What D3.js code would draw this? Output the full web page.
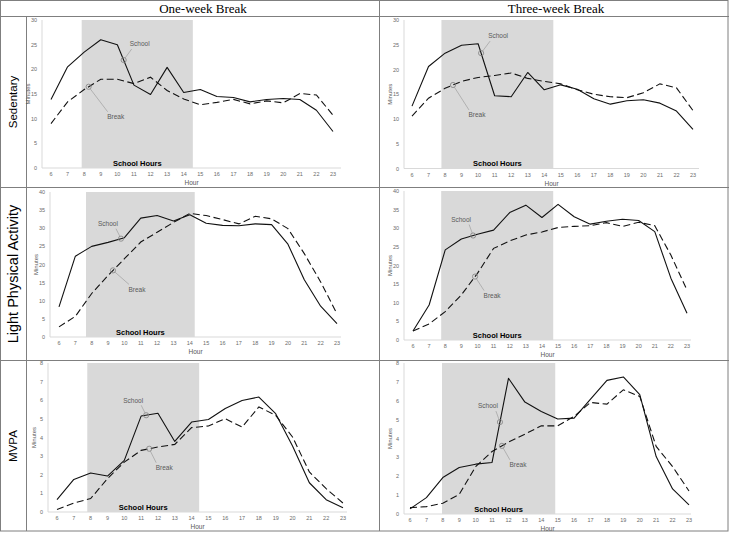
<!DOCTYPE html>
<html><head><meta charset="utf-8">
<script src="https://cdn.jsdelivr.net/npm/d3@7"></script>
<style>
body{margin:0;background:#fff;}
svg{display:block;}
</style></head>
<body>
<svg id="c" width="729" height="533"></svg>
<script>
// ---------- DATA ----------
const hours = [6,7,8,9,10,11,12,13,14,15,16,17,18,19,20,21,22,23];
const columnTitles = ["One-week Break", "Three-week Break"];
const rowTitles = ["Sedentary", "Light Physical Activity", "MVPA"];
const sedTicks = [0,5,10,15,20,25,30];
const lpaTicks = [0,5,10,15,20,25,30,35,40];
const mvpaTicks = [0,1,2,3,4,5,6,7,8];

const sedOneSchool   = [13.9,20.5,23.5,26.0,25.0,16.8,14.9,20.4,15.3,15.9,14.5,14.3,13.4,13.9,14.1,13.9,11.7,7.4];
const sedOneBreak    = [9.0,13.4,15.9,18.0,18.0,17.1,18.4,15.7,14.0,12.8,13.3,13.9,13.0,13.6,13.2,15.1,14.8,10.7];
const sedThreeSchool = [12.6,20.6,23.3,24.9,25.2,14.7,14.5,19.4,15.9,16.9,16.0,14.1,13.0,13.7,13.9,13.2,11.6,7.9];
const sedThreeBreak  = [10.6,14.2,16.2,17.6,18.4,18.8,19.3,18.2,17.6,17.1,15.9,15.0,14.5,14.3,15.3,17.1,16.3,11.7];

const lpaOneSchool   = [8.3,22.3,25.0,26.1,27.4,32.8,33.5,32.0,33.7,31.4,30.8,30.7,31.2,31.0,25.6,15.8,8.5,3.7];
const lpaOneBreak    = [2.8,5.7,12.0,17.0,21.6,26.2,28.9,31.6,34.1,33.5,32.4,31.2,33.3,32.6,29.9,23.0,15.2,6.4];
const lpaThreeSchool = [2.4,9.4,24.2,27.1,28.4,29.5,34.2,36.2,32.9,36.4,33.1,31.1,31.9,32.4,32.1,29.1,16.6,7.2];
const lpaThreeBreak  = [2.4,4.3,7.6,12.1,17.9,24.6,26.6,28.2,29.0,30.2,30.5,30.7,31.5,30.5,31.6,30.7,22.8,13.4];

const mvpaOneSchool   = [0.66,1.75,2.09,1.93,2.77,5.15,5.30,3.79,4.83,4.97,5.56,5.99,6.17,5.28,3.54,1.57,0.66,0.23];
const mvpaOneBreak    = [0.14,0.48,0.72,1.79,2.68,3.31,3.49,3.63,4.53,4.62,5.01,4.56,5.64,5.19,4.03,2.15,1.25,0.48];
const mvpaThreeSchool = [0.27,0.87,1.93,2.46,2.64,2.73,7.19,5.93,5.43,5.03,5.08,6.09,7.08,7.26,6.32,3.04,1.33,0.48];
const mvpaThreeBreak  = [0.34,0.39,0.57,1.04,2.51,3.31,3.81,4.23,4.67,4.67,5.17,5.91,5.82,6.58,6.23,3.58,2.51,1.22];

// ---------- LAYOUT ----------
const panels = [
  {row:0,col:0,ticks:sedTicks,school:sedOneSchool,brk:sedOneBreak,
   left:42,right:341,x6:51,x23:333,top:20,bottom:168,shade:[7.85,14.55],
   annS:[10.38,16,-16],annB:[8.27,27,30]},
  {row:0,col:1,ticks:sedTicks,school:sedThreeSchool,brk:sedThreeBreak,
   left:404,right:699,x6:412,x23:693,top:20,bottom:168.5,shade:[7.78,14.55],
   annS:[10.18,17,-17],annB:[8.48,24,30]},
  {row:1,col:0,ticks:lpaTicks,school:lpaOneSchool,brk:lpaOneBreak,
   left:50,right:341,x6:59,x23:337,top:192,bottom:337,shade:[7.65,14.3],
   annS:[9.79,-13,-15],annB:[9.30,24,19]},
  {row:1,col:1,ticks:lpaTicks,school:lpaThreeSchool,brk:lpaThreeBreak,
   left:404,right:691,x6:413,x23:687,top:191,bottom:340,shade:[7.75,14.7],
   annS:[9.73,-12,-16],annB:[9.85,17,19]},
  {row:2,col:0,ticks:mvpaTicks,school:mvpaOneSchool,brk:mvpaOneBreak,
   left:48,right:347,x6:57,x23:343,top:363,bottom:512,shade:[7.8,14.45],
   annS:[11.3,-13,-15],annB:[11.48,15,19]},
  {row:2,col:1,ticks:mvpaTicks,school:mvpaThreeSchool,brk:mvpaThreeBreak,
   left:404,right:691,x6:410,x23:689,top:363,bottom:514,shade:[7.95,14.85],
   annS:[11.48,-12,-16],annB:[11.6,16,19]}
];

const svg = d3.select("#c");
const gridColor = "#7f7f7f";
const sans = "'Liberation Sans', Arial, sans-serif";

// ---------- TABLE GRID ----------
const grid = svg.append("g").attr("stroke", gridColor).attr("stroke-width", 1).attr("fill","none");
grid.append("rect").attr("x",0.5).attr("y",0.5).attr("width",727.5).attr("height",530.5);
[16.5,187.5,360.5].forEach(y => grid.append("line").attr("x1",0).attr("x2",729).attr("y1",y).attr("y2",y));
grid.append("line").attr("x1",26.5).attr("x2",26.5).attr("y1",16.5).attr("y2",531);
grid.append("line").attr("x1",379.5).attr("x2",379.5).attr("y1",0).attr("y2",531);

svg.selectAll("text.colT").data(columnTitles).join("text")
  .attr("class","colT")
  .attr("x",(d,i)=> i===0 ? 203 : 556)
  .attr("y",13)
  .attr("text-anchor","middle")
  .attr("font-family","'Liberation Serif','Times New Roman',serif")
  .attr("font-size",13)
  .attr("fill","#000")
  .text(d=>d);

const rowCenters = [102, 274, 446];
const rowSizes = [11.5, 14.5, 11.5];
rowTitles.forEach((t,i)=>{
  svg.append("text")
    .attr("transform",`translate(${i===1?18:17},${rowCenters[i]}) rotate(-90)`)
    .attr("text-anchor","middle")
    .attr("font-family",sans)
    .attr("font-size",rowSizes[i])
    .attr("fill","#000")
    .text(t);
});

// ---------- PANELS ----------
function interp(arr, h){
  const i = Math.floor(h) - 6, f = h - Math.floor(h);
  return arr[i] + (arr[i+1]-arr[i])*f;
}

panels.forEach(p=>{
  const g = svg.append("g");
  const x = d3.scalePoint().domain(hours).range([p.x6,p.x23]);
  const xl = d3.scaleLinear().domain([6,23]).range([p.x6,p.x23]);
  const yMax = p.ticks[p.ticks.length-1];
  const y = d3.scaleLinear().domain([0,yMax]).range([p.bottom,p.top]);

  g.append("rect")
    .attr("x", xl(p.shade[0])).attr("y", p.top)
    .attr("width", xl(p.shade[1]) - xl(p.shade[0]))
    .attr("height", p.bottom - p.top)
    .attr("fill","#d9d9d9");

  g.append("line").attr("x1",p.left).attr("x2",p.left).attr("y1",p.top).attr("y2",p.bottom)
    .attr("stroke","#d9d9d9").attr("stroke-width",1);
  g.append("line").attr("x1",p.left).attr("x2",p.right).attr("y1",p.bottom).attr("y2",p.bottom)
    .attr("stroke","#d9d9d9").attr("stroke-width",1);

  g.selectAll("text.yt").data(p.ticks).join("text")
    .attr("x", p.left-5).attr("y", d=>y(d)+2)
    .attr("text-anchor","end").attr("font-family",sans).attr("font-size",5.5).attr("fill","#6b6b6b")
    .text(d=>d);
  g.selectAll("text.xt").data(hours).join("text")
    .attr("x", d=>x(d)).attr("y", p.bottom+8)
    .attr("text-anchor","middle").attr("font-family",sans).attr("font-size",5.5).attr("fill","#6b6b6b")
    .text(d=>d);
  g.append("text").attr("x",(p.left+p.right)/2).attr("y",p.bottom+17)
    .attr("text-anchor","middle").attr("font-family",sans).attr("font-size",6.5).attr("fill","#595959")
    .text("Hour");
  g.append("text").attr("transform",`translate(${p.left-12},${(p.top+p.bottom)/2}) rotate(-90)`)
    .attr("text-anchor","middle").attr("font-family",sans).attr("font-size",6).attr("fill","#595959")
    .text("Minutes");
  g.append("text").attr("x",(xl(p.shade[0])+xl(p.shade[1]))/2).attr("y",p.bottom-2.5)
    .attr("text-anchor","middle").attr("font-family",sans).attr("font-size",7.5).attr("font-weight","bold").attr("fill","#000")
    .text("School Hours");

  const line = d3.line().x((d,i)=>x(hours[i])).y(d=>y(d));
  g.append("path").datum(p.school).attr("d",line).attr("fill","none")
    .attr("stroke","#111").attr("stroke-width",1.1).attr("stroke-linejoin","round");
  g.append("path").datum(p.brk).attr("d",line).attr("fill","none")
    .attr("stroke","#111").attr("stroke-width",1.1).attr("stroke-dasharray","7,3.5");

  [[p.annS,p.school,"School"],[p.annB,p.brk,"Break"]].forEach(([a,arr,label])=>{
    const cx = xl(a[0]), cy = y(interp(arr,a[0]));
    const lx = cx + a[1], ly = cy + a[2];
    const ex = lx - Math.sign(a[1])*8, ey = ly - Math.sign(a[2])*5;
    const dx = ex-cx, dy = ey-cy, L = Math.hypot(dx,dy);
    g.append("line").attr("x1",cx+dx/L*2.6).attr("y1",cy+dy/L*2.6).attr("x2",ex).attr("y2",ey)
      .attr("stroke","#a6a6a6").attr("stroke-width",0.8);
    g.append("circle").attr("cx",cx).attr("cy",cy).attr("r",2.6)
      .attr("fill","none").attr("stroke","#808080").attr("stroke-width",0.8);
    g.append("text").attr("x",lx).attr("y",ly+2.3)
      .attr("text-anchor","middle").attr("font-family",sans).attr("font-size",6.5).attr("fill","#595959")
      .text(label);
  });
});
</script>
</body></html>
